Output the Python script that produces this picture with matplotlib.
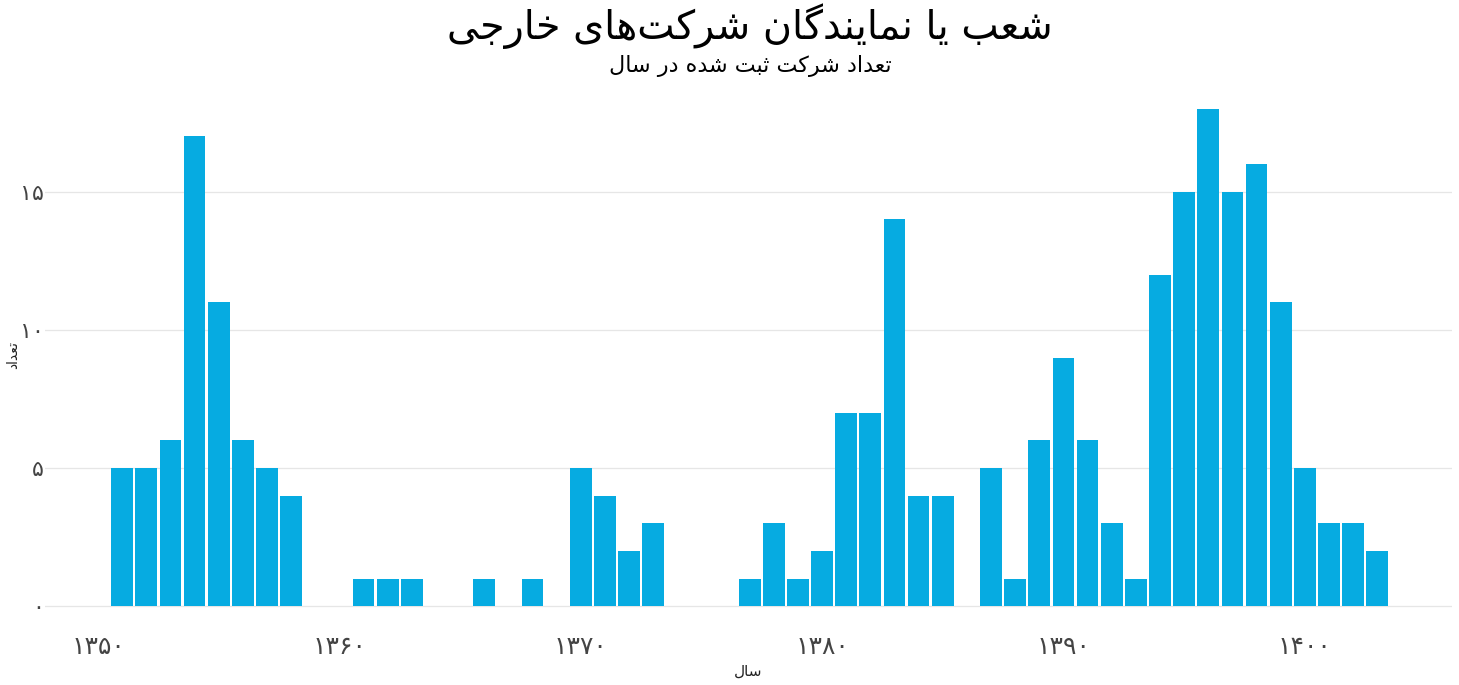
import matplotlib
matplotlib.use("Agg")
import matplotlib.pyplot as plt

# data (solar hijri years)
years = [1351, 1352, 1353, 1354, 1355, 1356, 1357, 1358,
         1361, 1362, 1363, 1366, 1368,
         1370, 1371, 1372, 1373,
         1377, 1378, 1379, 1380, 1381, 1382, 1383, 1384, 1385,
         1387, 1388, 1389, 1390, 1391, 1392, 1393, 1394, 1395, 1396, 1397, 1398, 1399,
         1400, 1401, 1402, 1403]
counts = [5, 5, 6, 17, 11, 6, 5, 4,
          1, 1, 1, 1, 1,
          5, 4, 2, 3,
          1, 3, 1, 2, 7, 7, 14, 4, 4,
          5, 1, 6, 9, 6, 3, 1, 12, 15, 18, 15, 16, 11,
          5, 3, 3, 2]
xticks = [1350, 1360, 1370, 1380, 1390, 1400]
yticks = [0, 5, 10, 15]

title = "شعب یا نمایندگان شرکت\u200cهای خارجی"
subtitle = "تعداد شرکت ثبت شده در سال"
xlab = "سال"
ylab = "تعداد"

# matplotlib has no arabic shaping, so do it by hand
# letter: (isolated, final, initial, medial); None -> joins only to the right
FORMS = {
    "ا": ("\uFE8D", "\uFE8E", None, None),
    "ب": ("\uFE8F", "\uFE90", "\uFE91", "\uFE92"),
    "ت": ("\uFE95", "\uFE96", "\uFE97", "\uFE98"),
    "ث": ("\uFE99", "\uFE9A", "\uFE9B", "\uFE9C"),
    "ج": ("\uFE9D", "\uFE9E", "\uFE9F", "\uFEA0"),
    "خ": ("\uFEA5", "\uFEA6", "\uFEA7", "\uFEA8"),
    "د": ("\uFEA9", "\uFEAA", None, None),
    "ر": ("\uFEAD", "\uFEAE", None, None),
    "س": ("\uFEB1", "\uFEB2", "\uFEB3", "\uFEB4"),
    "ش": ("\uFEB5", "\uFEB6", "\uFEB7", "\uFEB8"),
    "ع": ("\uFEC9", "\uFECA", "\uFECB", "\uFECC"),
    "ل": ("\uFEDD", "\uFEDE", "\uFEDF", "\uFEE0"),
    "م": ("\uFEE1", "\uFEE2", "\uFEE3", "\uFEE4"),
    "ن": ("\uFEE5", "\uFEE6", "\uFEE7", "\uFEE8"),
    "ه": ("\uFEE9", "\uFEEA", "\uFEEB", "\uFEEC"),
    "ک": ("\uFB8E", "\uFB8F", "\uFB90", "\uFB91"),
    "گ": ("\uFB92", "\uFB93", "\uFB94", "\uFB95"),
    "ی": ("\uFBFC", "\uFBFD", "\uFBFE", "\uFBFF"),
}


def shape(s):
    out = []
    for i, c in enumerate(s):
        if c not in FORMS:
            if c != "\u200c":
                out.append(c)
            continue
        prev = s[i - 1] if i > 0 else ""
        nxt = s[i + 1] if i + 1 < len(s) else ""
        join_prev = prev in FORMS and FORMS[prev][2] is not None
        join_next = nxt in FORMS and FORMS[c][2] is not None
        iso, fin, ini, med = FORMS[c]
        if join_prev and join_next:
            out.append(med)
        elif join_prev:
            out.append(fin)
        elif join_next:
            out.append(ini)
        else:
            out.append(iso)
    return "".join(out)[::-1]


def fa_num(n):
    return str(n).translate(str.maketrans("0123456789", "۰۱۲۳۴۵۶۷۸۹"))


plt.rcParams["font.family"] = ["DejaVu Sans"]

fig = plt.figure(figsize=(14.59, 6.85), dpi=100)
ax = fig.add_axes([0.0308, 0.0788, 0.9644, 0.7986])

ax.bar(years, counts, width=0.9, color="#06ABE1", zorder=2)

ax.set_xlim(1347.8, 1406.1)
ax.set_ylim(-0.9, 18.9)
ax.set_xticks(xticks)
ax.set_xticklabels([fa_num(v) for v in xticks], fontsize=18, color="#444444")
ax.set_yticks(yticks)
ax.set_yticklabels([fa_num(v) for v in yticks], fontsize=16, color="#444444")
ax.tick_params(axis="x", length=0, pad=3)
ax.tick_params(axis="y", length=0, pad=0.5)
ax.grid(axis="y", color="#e6e6e6", linewidth=0.9, zorder=0)
for sp in ax.spines.values():
    sp.set_visible(False)

ax.set_xlabel(shape(xlab), fontsize=11, color="#222222", labelpad=3)
# y label placed by hand, the tick labels would push it off the figure
fig.text(0.009, 0.482, shape(ylab), rotation=90, ha="center", va="center",
         fontsize=10, color="#222222")

fig.text(0.514, 0.962, shape(title), ha="center", va="center", fontsize=28.5)
fig.text(0.514, 0.903, shape(subtitle), ha="center", va="center", fontsize=16)

fig.savefig("out.png", dpi=100, facecolor="white")
